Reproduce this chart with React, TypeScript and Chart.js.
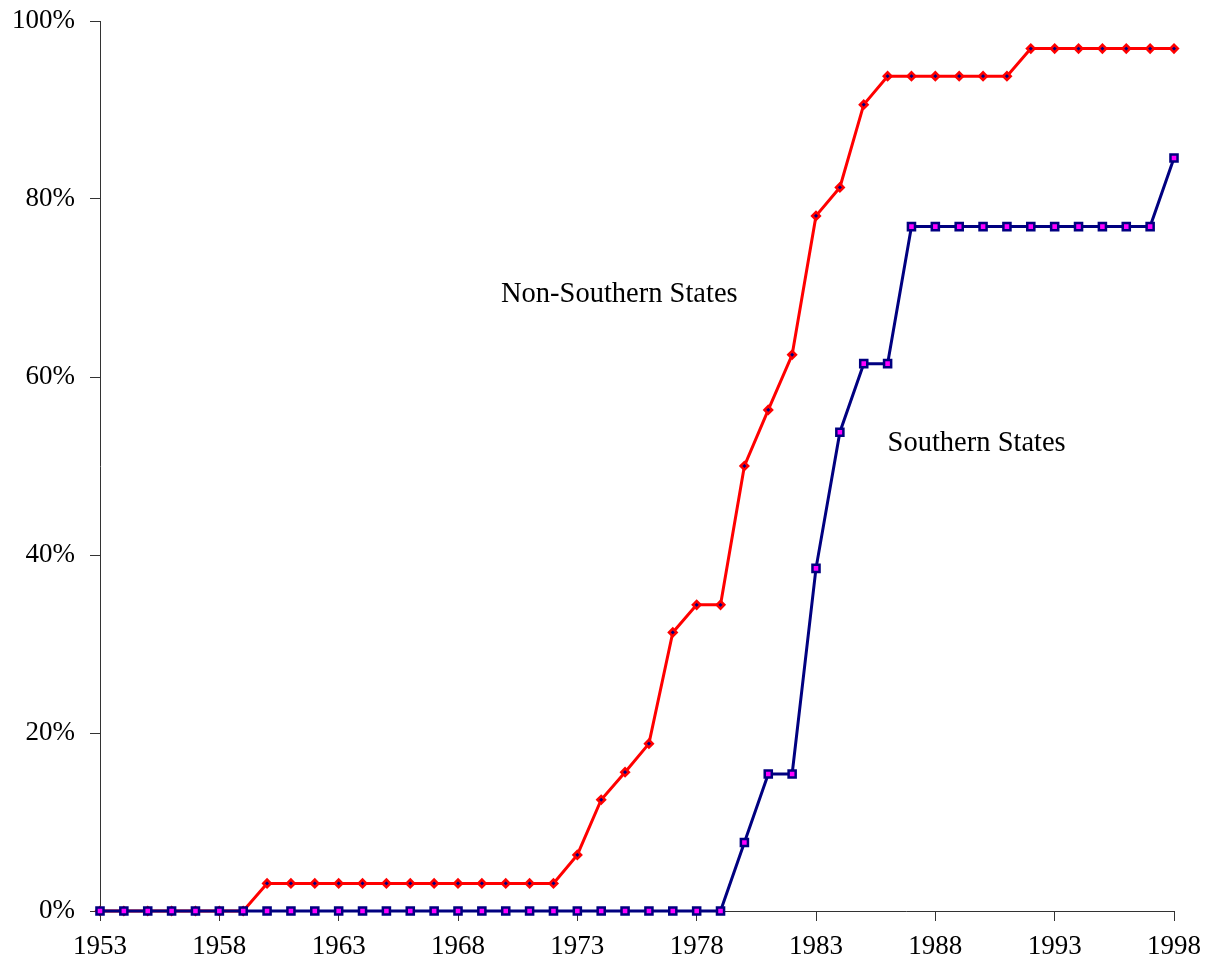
import React, { useEffect, useRef } from "react";
import { Chart, registerables } from "chart.js";

Chart.register(...registerables);

const years: number[] = [
  1953, 1954, 1955, 1956, 1957, 1958, 1959, 1960, 1961, 1962, 1963, 1964,
  1965, 1966, 1967, 1968, 1969, 1970, 1971, 1972, 1973, 1974, 1975, 1976,
  1977, 1978, 1979, 1980, 1981, 1982, 1983, 1984, 1985, 1986, 1987, 1988,
  1989, 1990, 1991, 1992, 1993, 1994, 1995, 1996, 1997, 1998,
];

const nonSouthern: number[] = [
  0, 0, 0, 0, 0, 0, 0,
  3.1, 3.1, 3.1, 3.1, 3.1, 3.1, 3.1, 3.1, 3.1, 3.1, 3.1, 3.1, 3.1,
  6.3, 12.5, 15.6, 18.8, 31.3, 34.4, 34.4, 50.0, 56.3, 62.5, 78.1, 81.3, 90.6,
  93.8, 93.8, 93.8, 93.8, 93.8, 93.8,
  96.9, 96.9, 96.9, 96.9, 96.9, 96.9, 96.9,
];

const southern: number[] = [
  0, 0, 0, 0, 0, 0, 0, 0, 0, 0, 0, 0, 0, 0, 0, 0, 0, 0, 0, 0, 0, 0, 0, 0, 0, 0, 0,
  7.7, 15.4, 15.4, 38.5, 53.8, 61.5, 61.5,
  76.9, 76.9, 76.9, 76.9, 76.9, 76.9, 76.9, 76.9, 76.9, 76.9, 76.9,
  84.6,
];

const yTicks: number[] = [0, 20, 40, 60, 80, 100];
const xTicks: number[] = [1953, 1958, 1963, 1968, 1973, 1978, 1983, 1988, 1993, 1998];

const seriesLabels: string[] = ["Non-Southern States", "Southern States"];
// anchor of each in-chart label in data units (year, percent)
const labelYears: number[] = [1969.8, 1986.0];
const labelValues: number[] = [69.3, 52.5];

const FONT = "'Times New Roman', 'Liberation Serif', serif";

export default function App() {
  const ref = useRef<HTMLCanvasElement | null>(null);

  useEffect(() => {
    if (!ref.current) return;
    const labelPlugin = {
      id: "seriesLabels",
      afterDatasetsDraw(chart: any) {
        const { ctx, scales } = chart;
        ctx.save();
        ctx.font = `28.5px ${FONT}`;
        ctx.fillStyle = "#000";
        ctx.textAlign = "left";
        ctx.textBaseline = "middle";
        seriesLabels.forEach((t, i) => {
          ctx.fillText(
            t,
            scales.x.getPixelForValue(labelYears[i]),
            scales.y.getPixelForValue(labelValues[i])
          );
        });
        ctx.restore();
      },
    };

    const chart = new Chart(ref.current, {
      type: "line",
      data: {
        datasets: [
          {
            label: seriesLabels[1],
            data: years.map((x, i) => ({ x, y: southern[i] })),
            borderColor: "#000080",
            borderWidth: 3,
            backgroundColor: "#FF00FF",
            pointStyle: "rect",
            pointRadius: 5,
            pointBorderWidth: 2.5,
            pointBorderColor: "#000080",
            pointBackgroundColor: "#FF00FF",
            tension: 0,
            clip: false as any,
            order: 0,
          },
          {
            label: seriesLabels[0],
            data: years.map((x, i) => ({ x, y: nonSouthern[i] })),
            borderColor: "#FF0000",
            borderWidth: 3,
            backgroundColor: "#000080",
            pointStyle: "rectRot",
            pointRadius: 3.8,
            pointBorderWidth: 2.5,
            pointBorderColor: "#FF0000",
            pointBackgroundColor: "#000080",
            tension: 0,
            clip: false as any,
            order: 1,
          },
        ],
      },
      options: {
        animation: false,
        responsive: false,
        layout: { padding: { left: 0, right: 35, top: 21, bottom: 0 } },
        plugins: {
          legend: { display: false },
          tooltip: { enabled: false },
        },
        scales: {
          x: {
            type: "linear",
            min: xTicks[0],
            max: xTicks[xTicks.length - 1],
            afterFit: (s: any) => {
              s.height = 63;
              s.paddingLeft = 0;
              s.paddingRight = 0;
            },
            afterBuildTicks: (s: any) => {
              s.ticks = xTicks.map((v) => ({ value: v }));
            },
            ticks: {
              stepSize: 5,
              autoSkip: false,
              maxRotation: 0,
              padding: 10,
              color: "#000",
              font: { family: FONT, size: 27 },
              callback: (v: any) => String(v),
            },
            grid: {
              display: true,
              drawOnChartArea: false,
              drawTicks: true,
              tickLength: 10,
              color: "#333",
            },
            border: { display: true, color: "#333", width: 1 },
          },
          y: {
            type: "linear",
            min: yTicks[0],
            max: yTicks[yTicks.length - 1],
            afterFit: (s: any) => {
              s.width = 100;
              s.paddingTop = 0;
              s.paddingBottom = 0;
            },
            afterBuildTicks: (s: any) => {
              s.ticks = yTicks.map((v) => ({ value: v }));
            },
            ticks: {
              stepSize: 20,
              padding: 15,
              color: "#000",
              font: { family: FONT, size: 27 },
              callback: (v: any) => `${v}%`,
            },
            grid: {
              display: true,
              drawOnChartArea: false,
              drawTicks: true,
              tickLength: 10,
              color: "#333",
            },
            border: { display: true, color: "#333", width: 1 },
          },
        },
      },
      plugins: [labelPlugin],
    });
    return () => chart.destroy();
  }, []);

  return (
    <div style={{ position: "absolute", left: 0, top: 0, width: 1209, height: 974, background: "#fff" }}>
      <canvas ref={ref} width={1209} height={974} style={{ display: "block" }} />
    </div>
  );
}
